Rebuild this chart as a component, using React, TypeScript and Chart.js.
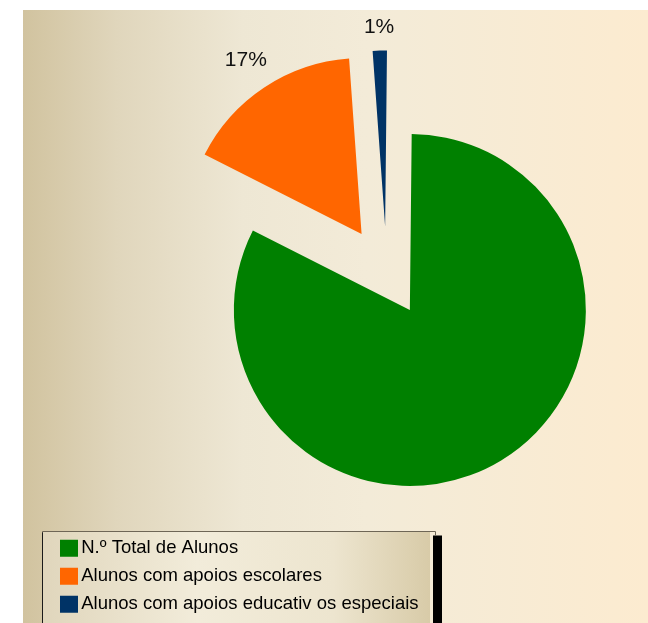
import React, { useEffect, useRef } from "react";
import { Chart, registerables } from "chart.js";

Chart.register(...registerables);

// ---- data ----
const categories = [
  "N.º Total de Alunos",
  "Alunos com apoios escolares",
  "Alunos com apoios educativ os especiais",
];
const shares = [82.3, 16.4, 1.3];
const shareLabels = ["", "17%", "1%"];
const sliceColors = ["#008000", "#FF6600", "#003366"];

// ---- styles ----
const EXPLODE = 45;
const RADIUS = 176;
const START_ROTATION = 0.6;
const LABEL_GAP = 14;
const FONT = "'Liberation Sans', Arial, Helvetica, sans-serif";
const CANVAS_W = 700;
const CANVAS_H = 703;
const CANVAS_TOP = -90;

const explodePlugin = {
  id: "explodeAll",
  beforeDatasetDraw(chart: any, args: any) {
    const ctx = chart.ctx;
    args.meta.data.forEach((arc: any) => {
      const p = arc.getProps(["startAngle", "endAngle"], true);
      const mid = (p.startAngle + p.endAngle) / 2;
      ctx.save();
      ctx.translate(Math.cos(mid) * EXPLODE, Math.sin(mid) * EXPLODE);
      arc.draw(ctx);
      ctx.restore();
    });
    return false;
  },
};

const labelPlugin = {
  id: "outsideLabels",
  afterDatasetsDraw(chart: any) {
    const meta = chart.getDatasetMeta(0);
    const ctx = chart.ctx;
    ctx.save();
    ctx.font = `21px ${FONT}`;
    ctx.fillStyle = "#111111";
    ctx.textAlign = "center";
    ctx.textBaseline = "middle";
    meta.data.forEach((arc: any, i: number) => {
      const text = shareLabels[i];
      if (!text) return;
      const p = arc.getProps(["startAngle", "endAngle", "x", "y", "outerRadius"], true);
      const mid = (p.startAngle + p.endAngle) / 2;
      const cx = Math.cos(mid);
      const cy = Math.sin(mid);
      const w = ctx.measureText(text).width;
      const h = 18;
      const d = EXPLODE + p.outerRadius + LABEL_GAP + (Math.abs(cx) * w) / 2 + (Math.abs(cy) * h) / 2;
      ctx.fillText(text, p.x + cx * d, p.y + cy * d);
    });
    ctx.restore();
  },
};

const legendBoxPlugin = {
  id: "legendBox",
  beforeDraw(chart: any) {
    const lg = chart.legend;
    if (!lg || !lg.legendHitBoxes || !lg.legendHitBoxes.length) return;
    const hbs = lg.legendHitBoxes;
    const ctx = chart.ctx;
    const left = Math.round(hbs[0].left - 24) + 0.5;
    const top = Math.round(hbs[0].top - 8) + 0.5;
    let maxRight = 0;
    hbs.forEach((hb: any) => (maxRight = Math.max(maxRight, hb.left + hb.width)));
    const fillRight = Math.round(maxRight + 11);
    const bottom = chart.height + 5;
    ctx.save();
    // shadow
    ctx.fillStyle = "#000000";
    ctx.fillRect(fillRight + 3, top + 4, 9, bottom - top);
    // fill
    const g = ctx.createLinearGradient(left, 0, fillRight, 0);
    g.addColorStop(0, "#E0D6BC");
    g.addColorStop(0.4, "#F2ECDA");
    g.addColorStop(0.75, "#EDE5CF");
    g.addColorStop(1, "#D8CBA8");
    ctx.fillStyle = g;
    ctx.fillRect(left, top, fillRight - left, bottom - top);
    // border
    ctx.strokeStyle = "#6E6656";
    ctx.lineWidth = 1;
    ctx.beginPath();
    ctx.moveTo(left, bottom);
    ctx.lineTo(left, top);
    ctx.lineTo(fillRight + 5.5, top);
    ctx.lineTo(fillRight + 5.5, top + 4);
    ctx.stroke();
    ctx.strokeStyle = "#1A1A1A";
    ctx.beginPath();
    ctx.moveTo(left, bottom);
    ctx.lineTo(left, top + 1);
    ctx.stroke();
    ctx.restore();
  },
};

export default function App() {
  const ref = useRef<HTMLCanvasElement>(null);

  useEffect(() => {
    if (!ref.current) return;
    const baseGen = (Chart as any).overrides.pie.plugins.legend.labels.generateLabels;
    const chart = new Chart(ref.current, {
      type: "pie",
      data: {
        labels: categories,
        datasets: [
          {
            data: shares,
            backgroundColor: sliceColors,
            borderWidth: 0,
            offset: 0,
            hoverOffset: 0,
            radius: RADIUS,
          } as any,
        ],
      },
      options: {
        animation: false,
        responsive: false,
        rotation: START_ROTATION,
        layout: { padding: { left: 33.5, right: 6.5, top: 0, bottom: 0 } },
        events: [],
        plugins: {
          tooltip: { enabled: false },
          legend: {
            display: true,
            position: "chartArea" as any,
            align: "end",
            labels: {
              color: "#000000",
              font: { family: FONT, size: 18.5 },
              boxWidth: 6,
              boxHeight: 5,
              padding: 9.5,
              generateLabels: (c: any) =>
                baseGen(c).map((it: any) => ({
                  ...it,
                  lineWidth: 12,
                  strokeStyle: it.fillStyle,
                  lineJoin: "miter",
                })),
            },
          },
        },
      },
      plugins: [legendBoxPlugin, explodePlugin, labelPlugin],
    });
    return () => chart.destroy();
  }, []);

  return (
    <div
      style={{
        position: "absolute",
        left: 23,
        top: 10,
        width: 625,
        height: 613,
        overflow: "hidden",
        background:
          "linear-gradient(to right, #D1C39F 0%, #E0D6BC 15%, #EEE7D4 35%, #F3EBD8 55%, #FCEBD0 100%)",
      }}
    >
      <canvas
        ref={ref}
        width={CANVAS_W}
        height={CANVAS_H}
        style={{ position: "absolute", left: 0, top: CANVAS_TOP, display: "block" }}
      />
    </div>
  );
}
